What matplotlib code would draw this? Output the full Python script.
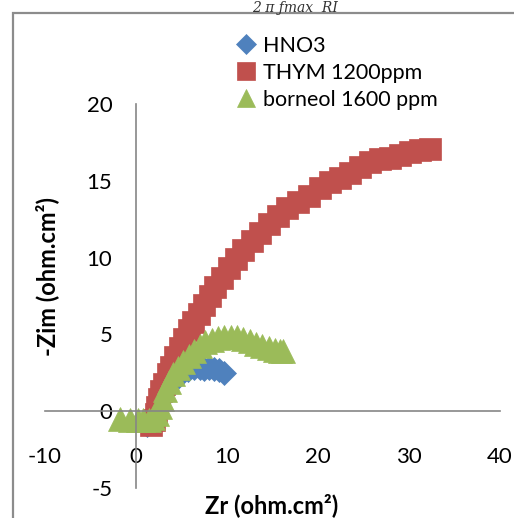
import matplotlib.pyplot as plt
from matplotlib.patches import Rectangle

plt.rcParams['font.family'] = ['Lato', 'DejaVu Sans']
plt.rcParams['axes.unicode_minus'] = False

# Nyquist data (ohm.cm2)
hno3_x = [1.2, 1.8, 2.3, 2.8, 3.3, 3.8, 4.4, 5.0, 5.7, 6.4, 7.0, 7.5, 8.0, 8.6, 9.1, 9.7]
hno3_y = [-0.9, -0.5, 0.1, 0.7, 1.3, 1.8, 2.2, 2.5, 2.7, 2.8, 2.8, 2.75, 2.8, 2.75, 2.65, 2.5]

thym_x = [1.6, 2.0, 2.2, 2.3, 2.5, 2.8, 3.1, 3.5, 3.9, 4.3, 4.8, 5.3, 5.8, 6.3, 6.9, 7.5, 8.1,
          8.7, 9.4, 10.2, 11.0, 11.8, 12.7, 13.6, 14.6, 15.6, 16.6, 17.8, 19.0, 20.2, 21.3,
          22.4, 23.5, 24.6, 25.7, 26.8, 27.9, 29.0, 30.1, 31.2, 32.3]
thym_y = [-0.9, -0.6, -0.2, 0.3, 0.8, 1.3, 1.8, 2.4, 2.9, 3.5, 4.1, 4.7, 5.3, 5.8, 6.3, 6.9, 7.5,
          8.1, 8.7, 9.3, 9.9, 10.5, 11.1, 11.6, 12.2, 12.7, 13.2, 13.6, 14.0, 14.5, 14.9,
          15.2, 15.5, 15.9, 16.2, 16.4, 16.5, 16.7, 16.9, 17.0, 17.1]

born_x = [-1.8, -0.7, 0.2, 0.8, 1.4, 1.9, 2.3, 2.6, 2.9, 3.2, 3.6, 4.1, 4.6, 5.2, 5.8, 6.4,
          7.0, 7.6, 8.3, 9.0, 9.7, 10.4, 11.1, 11.8, 12.5, 13.2, 13.9, 14.6, 15.3, 15.8, 16.2]
born_y = [-0.5, -0.55, -0.6, -0.6, -0.55, -0.45, -0.2, 0.3, 0.8, 1.4, 1.9, 2.4, 2.8, 3.2, 3.6,
          3.95, 4.25, 4.5, 4.65, 4.75, 4.8, 4.82, 4.8, 4.7, 4.55, 4.4, 4.25, 4.1, 4.0, 3.95, 3.9]

x_ticks = [-10, 0, 10, 20, 30, 40]
y_ticks = [-5, 0, 5, 10, 15, 20]


def make_plot():
    fig = plt.figure(figsize=(5.14, 5.18), dpi=100)
    ax = fig.add_axes([45 / 514, 30 / 518, 455 / 514, 384 / 518])

    ax.plot(hno3_x, hno3_y, linestyle="none", marker="D", ms=12.5, color="#4F81BD",
            mec="#4F81BD", mew=0.5, label="HNO3")
    ax.plot(thym_x, thym_y, linestyle="none", marker="s", ms=15.5, color="#C0504D",
            mec="#C0504D", mew=0.5, label="THYM 1200ppm")
    ax.plot(born_x, born_y, linestyle="none", marker="^", ms=17, color="#9BBB59",
            mec="#9BBB59", mew=0.5, label="borneol 1600 ppm")

    ax.set_xlim(-10, 40)
    ax.set_ylim(-5, 20)
    ax.set_xticks(x_ticks)
    ax.set_yticks(y_ticks)

    # axes cross at zero like the excel chart
    ax.spines["left"].set_position(("data", 0))
    ax.spines["bottom"].set_position(("data", 0))
    ax.spines["right"].set_visible(False)
    ax.spines["top"].set_visible(False)
    for s in ["left", "bottom"]:
        ax.spines[s].set_color("#868686")
        ax.spines[s].set_linewidth(1.2)
    ax.tick_params(axis="x", length=0, pad=26, labelsize=16)
    ax.tick_params(axis="y", length=0, pad=17, labelsize=16)
    ax.patch.set_visible(False)

    fig.text(272 / 514, 1 - 505 / 518, "Zr (ohm.cm²)", ha="center", va="center",
             fontsize=17, fontweight="bold")
    fig.text(47 / 514, 1 - 277 / 518, "-Zim (ohm.cm²)", ha="center", va="center",
             rotation=90, fontsize=17, fontweight="bold")

    fig.legend(loc="upper left", bbox_to_anchor=(227 / 514, 1 - 25 / 518), frameon=False,
               fontsize=15.5, handlelength=0.8, handletextpad=0.35, labelspacing=0.33,
               borderpad=0, markerscale=0.8)

    # chart frame and the formula line above it
    fig.add_artist(Rectangle((13 / 514, -0.2), 1.2, 1.2 - 13 / 518, transform=fig.transFigure,
                             fill=False, edgecolor="#8C8C8C", linewidth=1.6))
    fig.text(295 / 514, 0.999, "2 π ƒmax  RI", ha="center", va="top", fontsize=10,
             style="italic", family="DejaVu Serif", color="#333333")

    fig.savefig("out.png", dpi=100)


if __name__ == "__main__":
    make_plot()
